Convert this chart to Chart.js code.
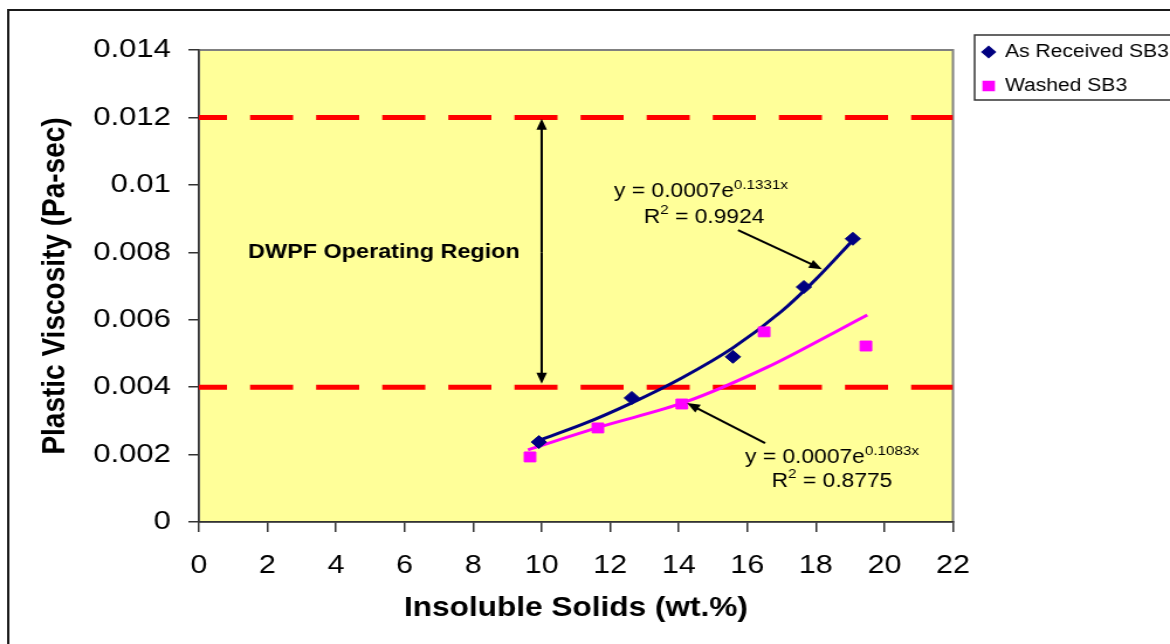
<!DOCTYPE html>
<html>
<head>
<meta charset="utf-8">
<script src="https://cdn.jsdelivr.net/npm/chart.js@4.4.1/dist/chart.umd.min.js"></script>
<style>
  html, body { margin: 0; padding: 0; background: #fff; overflow: hidden; }
  #viscChart { display: block; }
</style>
</head>
<body>
<!-- the reference is drawn a little wider than tall, so the canvas is stretched -->
<canvas id="viscChart" width="1000" height="644" style="width:1170px;height:644px"></canvas>
<script>
// Data
const receivedSolids = [9.92, 12.63, 15.58, 17.65, 19.08];
const receivedVisc = [0.00237, 0.00368, 0.0049, 0.00697, 0.0084];
const washedSolids = [9.66, 11.64, 14.09, 16.49, 19.46];
const washedVisc = [0.00193, 0.00279, 0.0035, 0.00564, 0.00522];

// trend curves
const receivedTrendX = [9.8, 11.2, 12.6, 14.1, 15.6, 17.0, 18.0, 19.1];
const receivedTrendY = [0.00238, 0.0029, 0.00352, 0.00428, 0.00518, 0.00625, 0.0072, 0.00838];
const washedTrendX = [9.6, 11.7, 14.2, 16.6, 18.5, 19.5];
const washedTrendY = [0.00214, 0.00282, 0.00356, 0.0046, 0.0056, 0.00614];

// DWPF operating region limits
const limitX = [0, 22];
const lowerLimit = [0.004, 0.004];
const upperLimit = [0.012, 0.012];

const xTicks = [0, 2, 4, 6, 8, 10, 12, 14, 16, 18, 20, 22];
const xTickLabels = ['0', '2', '4', '6', '8', '10', '12', '14', '16', '18', '20', '22'];
const yTicks = [0, 0.002, 0.004, 0.006, 0.008, 0.01, 0.012, 0.014];
const yTickLabels = ['0', '0.002', '0.004', '0.006', '0.008', '0.01', '0.012', '0.014'];

const seriesNames = ['As Received SB3', 'Washed SB3'];
const navy = '#000080';
const magenta = '#ff00ff';
const fontFamily = '"Liberation Sans", Arial, sans-serif';

const toPoints = (xs, ys) => xs.map((x, i) => ({ x: x, y: ys[i] }));

function drawArrow(ctx, x1, y1, x2, y2) {
  const ang = Math.atan2(y2 - y1, x2 - x1);
  const len = 11, half = 4.5;
  ctx.beginPath();
  ctx.moveTo(x1, y1);
  ctx.lineTo(x2 - Math.cos(ang) * len * 0.8, y2 - Math.sin(ang) * len * 0.8);
  ctx.stroke();
  ctx.beginPath();
  ctx.moveTo(x2, y2);
  ctx.lineTo(x2 - Math.cos(ang) * len - Math.sin(ang) * half, y2 - Math.sin(ang) * len + Math.cos(ang) * half);
  ctx.lineTo(x2 - Math.cos(ang) * len + Math.sin(ang) * half, y2 - Math.sin(ang) * len - Math.cos(ang) * half);
  ctx.closePath();
  ctx.fill();
}

// text made of normal and superscript pieces, centred on cx
function drawRich(ctx, parts, cx, cy) {
  let total = 0;
  parts.forEach(p => {
    ctx.font = (p.sup ? '13px ' : '19.5px ') + fontFamily;
    p.w = ctx.measureText(p.t).width;
    total += p.w;
  });
  let x = cx - total / 2;
  parts.forEach(p => {
    ctx.font = (p.sup ? '13px ' : '19.5px ') + fontFamily;
    ctx.fillText(p.t, x, p.sup ? cy - 7 : cy);
    x += p.w;
  });
}

const decor = {
  id: 'decor',
  beforeDraw(chart) {
    const { ctx, chartArea: a } = chart;
    ctx.save();
    ctx.fillStyle = '#fff';
    ctx.fillRect(0, 0, chart.width, chart.height);
    ctx.strokeStyle = '#1a1a1a';
    ctx.lineWidth = 2;
    ctx.strokeRect(7, 10, chart.width + 20, chart.height + 20);
    ctx.fillStyle = '#ffff99';
    ctx.fillRect(a.left, a.top, a.right - a.left, a.bottom - a.top);
    ctx.strokeStyle = '#808080';
    ctx.lineWidth = 2;
    ctx.strokeRect(a.left, a.top, a.right - a.left, a.bottom - a.top);
    ctx.restore();
  },
  afterDatasetsDraw(chart) {
    const ctx = chart.ctx;
    const xs = chart.scales.x, ys = chart.scales.y;
    const px = v => xs.getPixelForValue(v);
    const py = v => ys.getPixelForValue(v);
    ctx.save();
    ctx.strokeStyle = '#000';
    ctx.fillStyle = '#000';
    ctx.lineWidth = 2;

    // double arrow across the operating region
    drawArrow(ctx, px(10), py(0.008), px(10), py(0.01196));
    drawArrow(ctx, px(10), py(0.008), px(10), py(0.0041));

    // arrows to the trend lines
    drawArrow(ctx, px(15.73), py(0.00866), px(18.18), py(0.0075));
    drawArrow(ctx, px(16.52), py(0.00234), px(14.24), py(0.00353));

    ctx.textBaseline = 'middle';
    ctx.textAlign = 'left';
    ctx.fillStyle = '#000';
    drawRich(ctx, [{ t: 'y = 0.0007e' }, { t: '0.1331x', sup: true }], px(14.65), py(0.00979));
    drawRich(ctx, [{ t: 'R' }, { t: '2', sup: true }, { t: ' = 0.9924' }], px(14.74), py(0.00902));
    drawRich(ctx, [{ t: 'y = 0.0007e' }, { t: '0.1083x', sup: true }], px(18.47), py(0.0019));
    drawRich(ctx, [{ t: 'R' }, { t: '2', sup: true }, { t: ' = 0.8775' }], px(18.47), py(0.00119));

    ctx.font = 'bold 20px ' + fontFamily;
    ctx.textAlign = 'center';
    ctx.fillText('DWPF Operating Region', px(5.4), py(0.008));
    ctx.restore();
  },
  afterDraw(chart) {
    // legend box, cut by the right edge like the original
    const ctx = chart.ctx;
    ctx.save();
    ctx.fillStyle = '#fff';
    ctx.strokeStyle = '#333';
    ctx.lineWidth = 1.5;
    ctx.fillRect(833, 35, 200, 65);
    ctx.strokeRect(833, 35, 200, 65);
    const rows = [
      { style: 'rectRot', r: 5.5, color: navy, y: 52 },
      { style: 'rect', r: 6.5, color: magenta, y: 86 }
    ];
    ctx.font = '18px ' + fontFamily;
    ctx.textBaseline = 'middle';
    rows.forEach((row, i) => {
      ctx.fillStyle = row.color;
      ctx.strokeStyle = row.color;
      Chart.helpers.drawPoint(ctx, { pointStyle: row.style, radius: row.r, rotation: 0, borderWidth: 1 }, 845, row.y);
      ctx.fillStyle = '#000';
      ctx.fillText(seriesNames[i], 859, row.y);
    });
    ctx.restore();
  }
};

new Chart(document.getElementById('viscChart'), {
  type: 'scatter',
  data: {
    datasets: [
      {
        label: seriesNames[0],
        data: toPoints(receivedSolids, receivedVisc),
        pointStyle: 'rectRot',
        pointRadius: 6.5,
        backgroundColor: navy,
        borderColor: navy,
        borderWidth: 1,
        order: 1
      },
      {
        label: seriesNames[1],
        data: toPoints(washedSolids, washedVisc),
        pointStyle: 'rect',
        pointRadius: 7,
        backgroundColor: magenta,
        borderColor: magenta,
        borderWidth: 1,
        order: 1
      },
      {
        label: 'trend received',
        data: toPoints(receivedTrendX, receivedTrendY),
        showLine: true,
        pointRadius: 0,
        borderColor: navy,
        borderWidth: 3,
        cubicInterpolationMode: 'monotone',
        order: 3
      },
      {
        label: 'trend washed',
        data: toPoints(washedTrendX, washedTrendY),
        showLine: true,
        pointRadius: 0,
        borderColor: magenta,
        borderWidth: 3,
        cubicInterpolationMode: 'monotone',
        order: 3
      },
      {
        label: 'lower limit',
        data: toPoints(limitX, lowerLimit),
        showLine: true,
        pointRadius: 0,
        borderColor: '#ff0000',
        borderWidth: 5,
        borderDash: [36.8, 19.7],
        borderDashOffset: 12.8,
        borderCapStyle: 'butt',
        order: 5
      },
      {
        label: 'upper limit',
        data: toPoints(limitX, upperLimit),
        showLine: true,
        pointRadius: 0,
        borderColor: '#ff0000',
        borderWidth: 5,
        borderDash: [36.8, 19.7],
        borderDashOffset: 12.8,
        borderCapStyle: 'butt',
        order: 5
      }
    ]
  },
  options: {
    responsive: false,
    devicePixelRatio: 1,
    animation: false,
    layout: { padding: { top: 50, right: 185.5, left: 0, bottom: 0 } },
    plugins: {
      legend: { display: false },
      tooltip: { enabled: false }
    },
    scales: {
      x: {
        type: 'linear',
        min: 0,
        max: 22,
        afterBuildTicks: s => { s.ticks = xTicks.map(v => ({ value: v })); },
        afterFit: s => { s.height = 122; },
        grid: { drawOnChartArea: false, tickLength: 10, color: '#333', lineWidth: 1.5 },
        border: { color: '#333', width: 1.5 },
        ticks: {
          callback: (v, i) => xTickLabels[i],
          color: '#000',
          font: { family: fontFamily, size: 26 },
          padding: 18,
          maxRotation: 0
        },
        title: {
          display: true,
          text: 'Insoluble Solids (wt.%)',
          color: '#000',
          font: { family: fontFamily, size: 27, weight: 'bold' },
          padding: { top: 0, bottom: 19 }
        }
      },
      y: {
        type: 'linear',
        min: 0,
        max: 0.014,
        afterBuildTicks: s => { s.ticks = yTicks.map(v => ({ value: v })); },
        afterFit: s => { s.width = 170; },
        grid: { drawOnChartArea: false, tickLength: 9, color: '#333', lineWidth: 1.5 },
        border: { color: '#333', width: 1.5 },
        ticks: {
          callback: (v, i) => yTickLabels[i],
          color: '#000',
          font: { family: fontFamily, size: 26.5 },
          padding: 15
        },
        title: {
          display: true,
          text: 'Plastic Viscosity (Pa-sec)',
          color: '#000',
          font: { family: fontFamily, size: 28, weight: 'bold' },
          padding: { top: 30, bottom: 0 }
        }
      }
    }
  },
  plugins: [decor]
});
</script>
</body>
</html>
